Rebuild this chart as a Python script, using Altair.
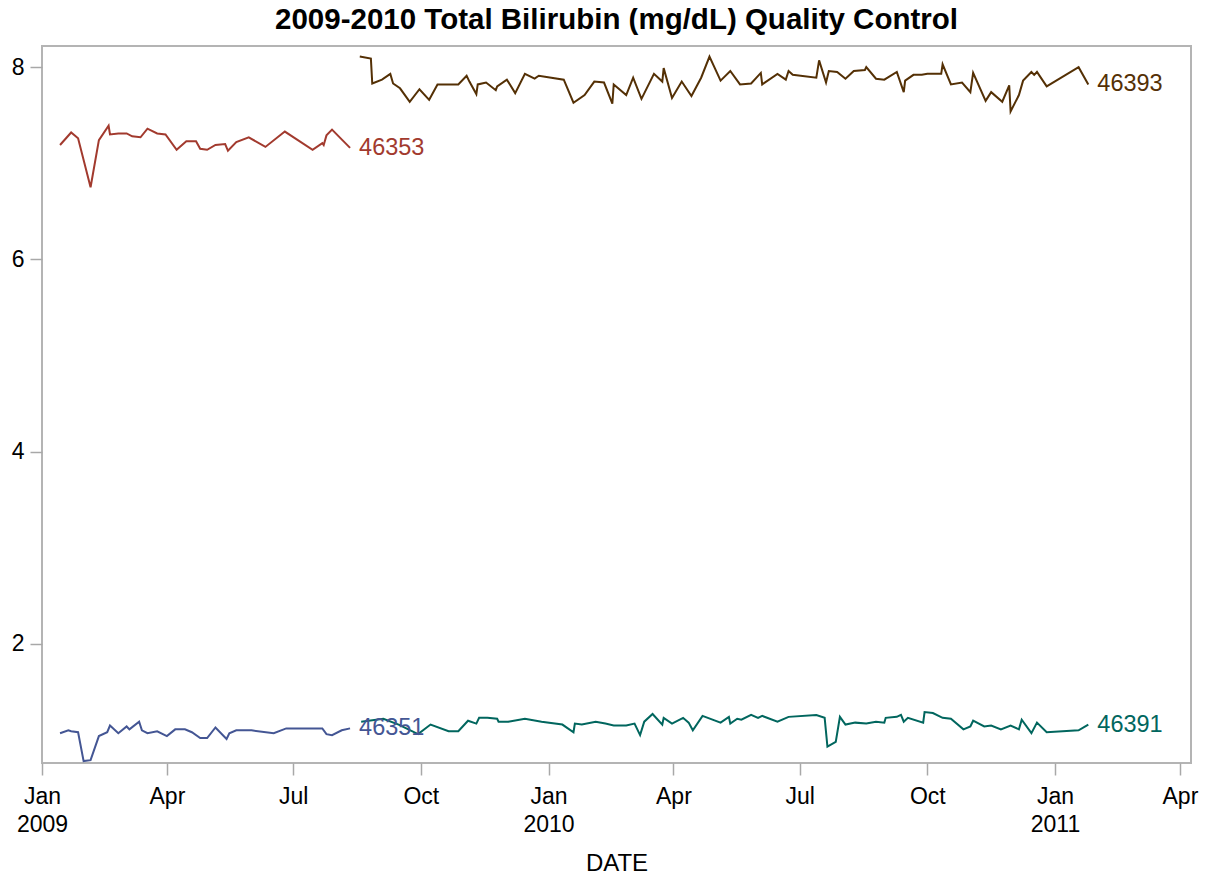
import altair as alt
import pandas as pd

series_ids = ["46351", "46353", "46391", "46393"]
series_colors = ["#445694", "#A23A2E", "#01665E", "#543005"]

dates_46353 = ["2009-01-14", "2009-01-22", "2009-01-27", "2009-02-05", "2009-02-11", "2009-02-18",
               "2009-02-19", "2009-02-25", "2009-03-03", "2009-03-07", "2009-03-13", "2009-03-18",
               "2009-03-25", "2009-03-31", "2009-04-08", "2009-04-15", "2009-04-22", "2009-04-25",
               "2009-04-30", "2009-05-06", "2009-05-13", "2009-05-15", "2009-05-21", "2009-05-30",
               "2009-06-11", "2009-06-25", "2009-07-15", "2009-07-22", "2009-07-23", "2009-07-25",
               "2009-07-29", "2009-08-11"]
vals_46353 = [7.19, 7.32, 7.26, 6.75, 7.24, 7.39, 7.30, 7.31, 7.31, 7.28, 7.27, 7.36,
              7.31, 7.30, 7.14, 7.23, 7.23, 7.15, 7.14, 7.19, 7.20, 7.13, 7.22, 7.27,
              7.17, 7.33, 7.14, 7.21, 7.19, 7.29, 7.35, 7.16]

dates_46351 = ["2009-01-14", "2009-01-20", "2009-01-22", "2009-01-27", "2009-01-31", "2009-02-05",
               "2009-02-11", "2009-02-17", "2009-02-19", "2009-02-25", "2009-03-03", "2009-03-05",
               "2009-03-12", "2009-03-14", "2009-03-18", "2009-03-25", "2009-04-01", "2009-04-07",
               "2009-04-14", "2009-04-19", "2009-04-25", "2009-04-30", "2009-05-06", "2009-05-14",
               "2009-05-16", "2009-05-21", "2009-06-01", "2009-06-17", "2009-06-26", "2009-07-22",
               "2009-07-25", "2009-07-29", "2009-08-05", "2009-08-11"]
vals_46351 = [1.07, 1.10, 1.09, 1.08, 0.78, 0.79, 1.04, 1.08, 1.15, 1.07, 1.14, 1.11,
              1.19, 1.10, 1.07, 1.09, 1.04, 1.11, 1.11, 1.08, 1.02, 1.02, 1.13, 1.01,
              1.07, 1.10, 1.10, 1.07, 1.12, 1.12, 1.06, 1.05, 1.10, 1.12]

dates_46391 = ["2009-08-19", "2009-09-04", "2009-09-15", "2009-09-29", "2009-10-08", "2009-10-21",
               "2009-10-28", "2009-11-04", "2009-11-10", "2009-11-12", "2009-11-18", "2009-11-25",
               "2009-11-26", "2009-12-03", "2009-12-15", "2009-12-27", "2010-01-11", "2010-01-19",
               "2010-01-20", "2010-01-25", "2010-02-04", "2010-02-11", "2010-02-17", "2010-02-26",
               "2010-03-04", "2010-03-08", "2010-03-11", "2010-03-17", "2010-03-24", "2010-03-25",
               "2010-03-31", "2010-04-08", "2010-04-12", "2010-04-15", "2010-04-22", "2010-05-05",
               "2010-05-11", "2010-05-12", "2010-05-17", "2010-05-20", "2010-05-27", "2010-06-01",
               "2010-06-04", "2010-06-15", "2010-06-23", "2010-07-13", "2010-07-19", "2010-07-21",
               "2010-07-27", "2010-07-30", "2010-08-03", "2010-08-10", "2010-08-18", "2010-08-25",
               "2010-08-31", "2010-09-01", "2010-09-09", "2010-09-12", "2010-09-14", "2010-09-17",
               "2010-09-28", "2010-09-29", "2010-10-05", "2010-10-12", "2010-10-18", "2010-10-27",
               "2010-11-01", "2010-11-03", "2010-11-11", "2010-11-16", "2010-11-23", "2010-11-30",
               "2010-12-06", "2010-12-08", "2010-12-15", "2010-12-19", "2010-12-26", "2011-01-18",
               "2011-01-25"]
vals_46391 = [1.19, 1.22, 1.16, 1.06, 1.16, 1.09,
              1.09, 1.20, 1.17, 1.23, 1.23, 1.22,
              1.19, 1.19, 1.22, 1.19, 1.16, 1.08,
              1.17, 1.16, 1.19, 1.17, 1.15, 1.15,
              1.17, 1.05, 1.19, 1.27, 1.16, 1.23,
              1.17, 1.23, 1.18, 1.10, 1.25, 1.18,
              1.24, 1.17, 1.22, 1.21, 1.26, 1.23,
              1.25, 1.19, 1.24, 1.26, 1.23, 0.93,
              0.98, 1.24, 1.16, 1.18, 1.17, 1.19,
              1.18, 1.23, 1.24, 1.26, 1.19, 1.23,
              1.18, 1.29, 1.28, 1.23, 1.22, 1.11,
              1.14, 1.20, 1.14, 1.15, 1.11, 1.15,
              1.11, 1.21, 1.07, 1.18, 1.08, 1.10,
              1.16]

dates_46393 = ["2009-08-18", "2009-08-26", "2009-08-27", "2009-09-03", "2009-09-09", "2009-09-11",
               "2009-09-16", "2009-09-23", "2009-09-30", "2009-10-07", "2009-10-13", "2009-10-28",
               "2009-11-03", "2009-11-05", "2009-11-10", "2009-11-11", "2009-11-17", "2009-11-24",
               "2009-11-25", "2009-12-02", "2009-12-08", "2009-12-15", "2009-12-22", "2009-12-25",
               "2010-01-12", "2010-01-19", "2010-01-27", "2010-02-03", "2010-02-10", "2010-02-16",
               "2010-02-17", "2010-02-26", "2010-03-03", "2010-03-09", "2010-03-18", "2010-03-24",
               "2010-03-25", "2010-03-31", "2010-04-07", "2010-04-14", "2010-04-21", "2010-04-27",
               "2010-05-05", "2010-05-12", "2010-05-19", "2010-05-27", "2010-06-03", "2010-06-04",
               "2010-06-15", "2010-06-21", "2010-06-23", "2010-06-26", "2010-07-13", "2010-07-15",
               "2010-07-20", "2010-07-22", "2010-07-28", "2010-08-03", "2010-08-09", "2010-08-17",
               "2010-08-18", "2010-08-25", "2010-08-31", "2010-09-09", "2010-09-14", "2010-09-15",
               "2010-09-21", "2010-09-27", "2010-10-01", "2010-10-11", "2010-10-12", "2010-10-18",
               "2010-10-26", "2010-11-01", "2010-11-03", "2010-11-12", "2010-11-16", "2010-11-24",
               "2010-11-29", "2010-11-30", "2010-12-06", "2010-12-09", "2010-12-15", "2010-12-17",
               "2010-12-19", "2010-12-26", "2011-01-18", "2011-01-25"]
vals_46393 = [8.11, 8.09, 7.83, 7.87, 7.93, 7.83,
              7.78, 7.64, 7.77, 7.66, 7.82, 7.82,
              7.91, 7.85, 7.72, 7.82, 7.84, 7.76,
              7.80, 7.87, 7.73, 7.93, 7.88, 7.91,
              7.87, 7.63, 7.71, 7.85, 7.84, 7.62,
              7.82, 7.71, 7.89, 7.67, 7.93, 7.85,
              7.99, 7.68, 7.85, 7.70, 7.89, 8.11,
              7.86, 7.96, 7.82, 7.83, 7.94, 7.82,
              7.93, 7.87, 7.96, 7.92, 7.89, 8.07,
              7.84, 7.96, 7.95, 7.88, 7.96, 7.97,
              8.00, 7.88, 7.87, 7.95, 7.74, 7.86,
              7.92, 7.92, 7.93, 7.93, 8.03, 7.82,
              7.84, 7.74, 7.94, 7.65, 7.74, 7.64,
              7.81, 7.54, 7.71, 7.86, 7.95, 7.92,
              7.95, 7.80, 8.00, 7.82]

y_ticks = [2, 4, 6, 8]
x_tick_dates = [(2009, 1), (2009, 4), (2009, 7), (2009, 10), (2010, 1), (2010, 4),
                (2010, 7), (2010, 10), (2011, 1), (2011, 4)]

series_data = {
    "46351": (dates_46351, vals_46351),
    "46353": (dates_46353, vals_46353),
    "46391": (dates_46391, vals_46391),
    "46393": (dates_46393, vals_46393),
}

frames = []
for sid, (d, v) in series_data.items():
    frames.append(pd.DataFrame({"DATE": pd.to_datetime(d), "value": v, "series": sid}))
df = pd.concat(frames, ignore_index=True)
last = df.groupby("series").tail(1).reset_index(drop=True)

FONT = "Liberation Sans"
color = alt.Color("series:N", scale=alt.Scale(domain=series_ids, range=series_colors), legend=None)

x_enc = alt.X(
    "DATE:T",
    scale=alt.Scale(domain=[alt.DateTime(year=2009, month=1, date=1),
                            alt.DateTime(year=2011, month=4, date=9)]),
    axis=alt.Axis(
        title="DATE",
        values=[alt.DateTime(year=y, month=m, date=1) for y, m in x_tick_dates],
        labelExpr="month(datum.value) == 0 ? [timeFormat(datum.value, '%b'), timeFormat(datum.value, '%Y')] : timeFormat(datum.value, '%b')",
        labelFlush=False,
        labelOverlap=False,
        labelLineHeight=28,
        labelPadding=10,
        labelFontSize=23,
        titleFontSize=24,
        titlePadding=15,
        titleFontWeight="normal",
    ),
)
y_enc = alt.Y(
    "value:Q",
    scale=alt.Scale(domain=[0.76, 8.22], nice=False, zero=False),
    axis=alt.Axis(title=None, values=y_ticks, format="d", labelFontSize=23,
                  labelPadding=6, labelFlush=False),
)

lines = alt.Chart(df).mark_line(strokeWidth=2, clip=True).encode(
    x=x_enc, y=y_enc, color=color, order="DATE:T"
)
labels = alt.Chart(last).mark_text(
    align="left", baseline="middle", dx=9, fontSize=23.5, font=FONT
).encode(x="DATE:T", y="value:Q", text="series:N", color=color)

chart = alt.layer(lines, labels).properties(
    width=1149,
    height=717,
    autosize=alt.AutoSizeParams(type="none"),
    padding={"left": 34, "top": 38, "right": 9, "bottom": 113},
    title=alt.TitleParams(
        "2009-2010 Total Bilirubin (mg/dL) Quality Control",
        fontSize=29.5, font=FONT, fontWeight="bold", anchor="middle", offset=11, color="black",
    ),
).configure_view(
    stroke="#B4B4B4", strokeWidth=2
).configure_axis(
    grid=False, domain=False, tickColor="#A8A8A8", tickSize=12, tickWidth=1.5,
    labelFont=FONT, titleFont=FONT, labelColor="black", titleColor="black",
)

chart.save("out.html", embed_options={"renderer": "svg", "actions": False})
